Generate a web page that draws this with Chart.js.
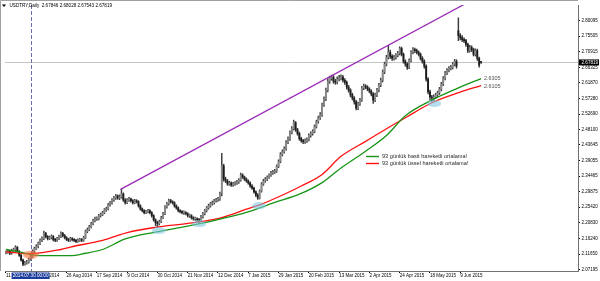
<!DOCTYPE html>
<html><head><meta charset="utf-8">
<script src="https://cdn.jsdelivr.net/npm/chart.js@4/dist/chart.umd.min.js"></script>
<style>html,body{margin:0;padding:0;background:#fff;overflow:hidden}</style>
</head><body>
<canvas id="c" width="600" height="281"></canvas>
<script>
// ---- data ----
const chartTitle = 'USDTRY,Daily  2.67846 2.68028 2.67543 2.67819';
const opens = [
2.120,2.122,2.125,2.119,2.128,2.130,2.136,2.125,2.113,2.099,
2.087,2.090,2.093,2.101,2.110,2.125,2.133,2.139,2.148,2.157,
2.162,2.177,2.168,2.162,2.165,2.168,2.159,2.157,2.162,2.168,
2.177,2.171,2.165,2.159,2.157,2.162,2.159,2.157,2.154,2.157,
2.159,2.157,2.165,2.183,2.188,2.197,2.206,2.215,2.220,2.220,
2.229,2.232,2.238,2.246,2.249,2.261,2.267,2.275,2.281,2.287,
2.281,2.284,2.293,2.275,2.267,2.275,2.278,2.273,2.267,2.273,
2.270,2.258,2.249,2.244,2.238,2.241,2.244,2.238,2.229,2.217,
2.209,2.206,2.212,2.223,2.235,2.255,2.264,2.273,2.270,2.267,
2.258,2.252,2.244,2.241,2.238,2.238,2.235,2.229,2.229,2.223,
2.220,2.220,2.217,2.215,2.226,2.235,2.244,2.252,2.258,2.264,
2.267,2.273,2.275,2.278,2.295,2.375,2.336,2.331,2.322,2.325,
2.319,2.322,2.325,2.328,2.333,2.348,2.342,2.336,2.331,2.325,
2.316,2.310,2.299,2.290,2.281,2.301,2.322,2.331,2.336,2.342,
2.348,2.354,2.357,2.360,2.374,2.388,2.409,2.417,2.426,2.444,
2.455,2.473,2.484,2.502,2.481,2.470,2.455,2.449,2.446,2.449,
2.452,2.464,2.470,2.476,2.490,2.504,2.516,2.525,2.554,2.571,
2.597,2.623,2.632,2.635,2.623,2.620,2.629,2.632,2.635,2.626,
2.620,2.606,2.597,2.583,2.574,2.563,2.545,2.557,2.568,2.603,
2.609,2.606,2.600,2.594,2.586,2.568,2.583,2.597,2.612,2.626,
2.650,2.673,2.693,2.708,2.696,2.690,2.693,2.699,2.705,2.719,
2.702,2.681,2.673,2.664,2.684,2.708,2.716,2.713,2.708,2.702,
2.690,2.681,2.667,2.629,2.592,2.577,2.574,2.577,2.583,2.589,
2.600,2.615,2.632,2.647,2.655,2.661,2.664,2.673,2.681,2.771,
2.757,2.751,2.745,2.742,2.731,2.713,2.722,2.716,2.702,2.713,
2.690,2.67846];
const highs = [
2.126,2.129,2.128,2.131,2.134,2.141,2.139,2.127,2.116,2.102,
2.095,2.098,2.105,2.114,2.129,2.137,2.144,2.152,2.161,2.167,
2.184,2.180,2.171,2.169,2.173,2.171,2.163,2.166,2.172,2.182,
2.180,2.174,2.168,2.163,2.166,2.165,2.162,2.160,2.161,2.163,
2.162,2.169,2.187,2.193,2.201,2.210,2.219,2.225,2.226,2.233,
2.237,2.242,2.250,2.254,2.265,2.271,2.279,2.286,2.292,2.290,
2.290,2.307,2.296,2.279,2.279,2.283,2.281,2.276,2.277,2.276,
2.273,2.261,2.252,2.247,2.245,2.248,2.247,2.241,2.232,2.220,
2.213,2.216,2.227,2.239,2.259,2.268,2.278,2.277,2.273,2.270,
2.261,2.255,2.247,2.244,2.243,2.241,2.238,2.234,2.232,2.226,
2.225,2.223,2.221,2.230,2.239,2.248,2.256,2.263,2.268,2.272,
2.277,2.280,2.283,2.298,2.412,2.380,2.342,2.335,2.330,2.328,
2.327,2.329,2.333,2.338,2.354,2.352,2.345,2.340,2.334,2.328,
2.320,2.313,2.302,2.294,2.305,2.326,2.336,2.341,2.346,2.352,
2.359,2.362,2.365,2.378,2.393,2.414,2.422,2.431,2.449,2.460,
2.478,2.490,2.509,2.505,2.485,2.474,2.459,2.453,2.454,2.457,
2.469,2.475,2.481,2.495,2.509,2.521,2.531,2.559,2.577,2.603,
2.630,2.638,2.641,2.640,2.629,2.636,2.640,2.642,2.640,2.631,
2.624,2.611,2.601,2.588,2.578,2.567,2.562,2.573,2.608,2.615,
2.613,2.610,2.604,2.598,2.590,2.588,2.602,2.617,2.632,2.656,
2.679,2.699,2.728,2.714,2.701,2.699,2.704,2.711,2.724,2.723,
2.706,2.686,2.678,2.689,2.713,2.722,2.720,2.717,2.712,2.706,
2.695,2.686,2.671,2.634,2.597,2.582,2.583,2.588,2.594,2.605,
2.620,2.637,2.652,2.660,2.666,2.670,2.678,2.687,2.686,2.809,
2.763,2.757,2.750,2.746,2.735,2.728,2.727,2.720,2.718,2.717,
2.694,2.68028];
const lows = [
2.117,2.119,2.115,2.116,2.125,2.127,2.122,2.110,2.096,2.083,
2.084,2.087,2.090,2.098,2.107,2.121,2.130,2.135,2.144,2.153,
2.159,2.164,2.158,2.159,2.161,2.155,2.153,2.154,2.159,2.165,
2.167,2.161,2.156,2.153,2.154,2.155,2.153,2.150,2.151,2.154,
2.153,2.154,2.162,2.179,2.185,2.193,2.202,2.211,2.215,2.217,
2.225,2.229,2.235,2.242,2.246,2.257,2.263,2.271,2.277,2.277,
2.276,2.280,2.271,2.263,2.264,2.271,2.269,2.263,2.264,2.266,
2.254,2.245,2.240,2.234,2.235,2.237,2.234,2.225,2.213,2.200,
2.195,2.202,2.209,2.220,2.232,2.251,2.260,2.266,2.263,2.254,
2.248,2.240,2.237,2.234,2.233,2.231,2.225,2.224,2.219,2.216,
2.215,2.212,2.206,2.212,2.222,2.231,2.240,2.248,2.254,2.260,
2.263,2.269,2.271,2.274,2.287,2.330,2.326,2.318,2.318,2.315,
2.315,2.318,2.321,2.324,2.330,2.338,2.332,2.327,2.321,2.312,
2.306,2.295,2.285,2.277,2.278,2.298,2.318,2.327,2.332,2.338,
2.344,2.350,2.353,2.356,2.370,2.384,2.404,2.412,2.421,2.440,
2.450,2.469,2.480,2.476,2.465,2.450,2.444,2.440,2.441,2.444,
2.448,2.459,2.465,2.472,2.486,2.500,2.511,2.520,2.549,2.566,
2.592,2.617,2.626,2.617,2.614,2.615,2.624,2.627,2.620,2.614,
2.600,2.591,2.577,2.568,2.556,2.539,2.540,2.552,2.564,2.598,
2.601,2.595,2.589,2.580,2.558,2.563,2.578,2.592,2.607,2.621,
2.645,2.668,2.688,2.690,2.684,2.685,2.688,2.694,2.700,2.697,
2.676,2.667,2.658,2.660,2.680,2.703,2.707,2.703,2.697,2.685,
2.676,2.661,2.623,2.586,2.568,2.563,2.567,2.572,2.578,2.584,
2.595,2.610,2.627,2.642,2.650,2.656,2.659,2.668,2.661,2.742,
2.744,2.739,2.736,2.725,2.707,2.708,2.710,2.697,2.697,2.684,
2.664,2.67543];
const closes = [
2.122,2.125,2.119,2.128,2.130,2.136,2.125,2.113,2.099,2.087,
2.090,2.093,2.101,2.110,2.125,2.133,2.139,2.148,2.157,2.162,
2.177,2.168,2.162,2.165,2.168,2.159,2.157,2.162,2.168,2.177,
2.171,2.165,2.159,2.157,2.162,2.159,2.157,2.154,2.157,2.159,
2.157,2.165,2.183,2.188,2.197,2.206,2.215,2.220,2.220,2.229,
2.232,2.238,2.246,2.249,2.261,2.267,2.275,2.281,2.287,2.281,
2.284,2.293,2.275,2.267,2.275,2.278,2.273,2.267,2.273,2.270,
2.258,2.249,2.244,2.238,2.241,2.244,2.238,2.229,2.217,2.209,
2.206,2.212,2.223,2.235,2.255,2.264,2.273,2.270,2.267,2.258,
2.252,2.244,2.241,2.238,2.238,2.235,2.229,2.229,2.223,2.220,
2.220,2.217,2.215,2.226,2.235,2.244,2.252,2.258,2.264,2.267,
2.273,2.275,2.278,2.293,2.375,2.336,2.331,2.322,2.325,2.319,
2.322,2.325,2.328,2.333,2.348,2.342,2.336,2.331,2.325,2.316,
2.310,2.299,2.290,2.281,2.301,2.322,2.331,2.336,2.342,2.348,
2.354,2.357,2.360,2.374,2.388,2.409,2.417,2.426,2.444,2.455,
2.473,2.484,2.502,2.481,2.470,2.455,2.449,2.446,2.449,2.452,
2.464,2.470,2.476,2.490,2.504,2.516,2.525,2.554,2.571,2.597,
2.623,2.632,2.635,2.623,2.620,2.629,2.632,2.635,2.626,2.620,
2.606,2.597,2.583,2.574,2.563,2.545,2.557,2.568,2.603,2.609,
2.606,2.600,2.594,2.586,2.568,2.583,2.597,2.612,2.626,2.650,
2.673,2.693,2.708,2.696,2.690,2.693,2.699,2.705,2.719,2.702,
2.681,2.673,2.664,2.684,2.708,2.716,2.713,2.708,2.702,2.690,
2.681,2.667,2.629,2.592,2.577,2.574,2.577,2.583,2.589,2.600,
2.615,2.632,2.647,2.655,2.661,2.664,2.673,2.681,2.667,2.757,
2.751,2.745,2.742,2.731,2.713,2.722,2.716,2.702,2.713,2.690,
2.670,2.67819];

const xTickIndex  = [0,16,32,48,64,80,96,112,128,144,160,176,192,208,224,240];
const xTickLabels = ['11 Jul 2014','4 Aug 2014','26 Aug 2014','17 Sep 2014','9 Oct 2014','30 Oct 2014',
  '21 Nov 2014','12 Dec 2014','7 Jan 2015','29 Jan 2015','20 Feb 2015','13 Mar 2015','2 Apr 2015',
  '24 Apr 2015','18 May 2015','9 Jun 2015'];
const yTickValues = [2.80095,2.75505,2.70915,2.66325,2.61870,2.57280,2.52690,2.48100,2.43645,
  2.39055,2.34465,2.29875,2.25420,2.20830,2.16240,2.11650,2.07195];

const smaIndex  = [0,7,16,25,34,42,51,63,79,102,113,127,142,155,167,177,190,201,211,225,240,251];
const smaValues = [2.130,2.123,2.113,2.112,2.112,2.119,2.130,2.161,2.181,2.205,2.219,2.239,2.268,2.292,2.326,2.369,2.418,2.464,2.522,2.568,2.606,2.6305];
const emaIndex  = [0,13,29,34,51,65,79,97,113,127,135,147,156,167,177,190,201,211,225,240,251];
const emaValues = [2.123,2.118,2.130,2.137,2.157,2.181,2.195,2.207,2.222,2.248,2.263,2.292,2.316,2.350,2.403,2.447,2.484,2.516,2.560,2.591,2.6105];

const trendIndex  = [60.5, 242];
const trendValues = [2.3064, 2.848];

const touchIndex  = [13, 80.7, 102.1, 133.6, 226.3];
const touchValues = [2.115, 2.1855, 2.205, 2.258, 2.5576];

const currentPrice = 2.67819;
const crosshairIndex = 13;
const crosshairLabel = '2014.07.30 00:00';
const legendLabels = ['93 günlük basit hareketli ortalama!', '93 günlük üssel hareketli ortalama!'];
const maEndLabels = ['2.6305', '2.6105'];

// ---- styling ----
const FONT = '"Liberation Sans", Arial, sans-serif';
const GREEN = '#159415', RED = '#ff1010', PURPLE = '#9a2cb6';

function ellipseImg(w, h, color) {
  const c = document.createElement('canvas'); c.width = w; c.height = h;
  const g = c.getContext('2d'); g.fillStyle = color;
  g.beginPath(); g.ellipse(w/2, h/2, w/2, h/2, 0, 0, Math.PI*2); g.fill();
  return c;
}
const orangeBlob = ellipseImg(16, 8, 'rgba(245,110,60,0.62)');
const blueBlob = ellipseImg(14, 7, 'rgba(130,200,225,0.6)');

const wickData = closes.map((c, i) => ({x: i, y: [lows[i], highs[i]]}));
const bodyData = closes.map((c, i) => ({x: i, y: [opens[i], c]}));

const overlay = {
  id: 'overlay',
  beforeDatasetsDraw(chart) {
    const {ctx, chartArea: a, scales: {x, y}} = chart;
    ctx.save();
    const py = Math.round(y.getPixelForValue(currentPrice)) + 0.5;
    ctx.strokeStyle = '#c6c6c6'; ctx.lineWidth = 1;
    ctx.beginPath(); ctx.moveTo(a.left, py); ctx.lineTo(a.right, py); ctx.stroke();
    const cx = Math.round(x.getPixelForValue(crosshairIndex)) + 0.5;
    ctx.strokeStyle = '#6e6eb8'; ctx.setLineDash([4, 2]);
    ctx.beginPath(); ctx.moveTo(cx, a.top); ctx.lineTo(cx, a.bottom); ctx.stroke();
    ctx.restore();
  },
  afterDraw(chart) {
    const {ctx, chartArea: a, scales: {x, y}} = chart;
    ctx.save();
    ctx.strokeStyle = '#a0a0a0'; ctx.lineWidth = 1;
    ctx.beginPath(); ctx.moveTo(0.5, a.bottom); ctx.lineTo(0.5, 0.5); ctx.lineTo(a.right, 0.5); ctx.stroke();
    ctx.fillStyle = '#000';
    ctx.beginPath(); ctx.moveTo(2, 4.5); ctx.lineTo(6, 4.5); ctx.lineTo(4, 7); ctx.closePath(); ctx.fill();
    ctx.font = '4.6px ' + FONT; ctx.textBaseline = 'middle'; ctx.textAlign = 'left';
    ctx.fillText(chartTitle, 9.5, 5.8);
    ctx.lineWidth = 1.4;
    ctx.strokeStyle = GREEN; ctx.beginPath(); ctx.moveTo(366, 156.5); ctx.lineTo(379, 156.5); ctx.stroke();
    ctx.strokeStyle = RED; ctx.beginPath(); ctx.moveTo(366, 163.5); ctx.lineTo(379, 163.5); ctx.stroke();
    ctx.font = '5.6px ' + FONT; ctx.fillStyle = '#2a2a2a';
    ctx.fillText(legendLabels[0], 382, 156.6);
    ctx.fillText(legendLabels[1], 382, 163.6);
    ctx.fillStyle = '#505050'; ctx.font = '5.4px ' + FONT;
    const sx = x.getPixelForValue(smaIndex[smaIndex.length-1]);
    ctx.fillText(maEndLabels[0], sx + 3, y.getPixelForValue(smaValues[smaValues.length-1]));
    const ex = x.getPixelForValue(emaIndex[emaIndex.length-1]);
    ctx.fillText(maEndLabels[1], ex + 3, y.getPixelForValue(emaValues[emaValues.length-1]) + 0.5);
    const py = y.getPixelForValue(currentPrice);
    ctx.fillStyle = '#000'; ctx.fillRect(a.right + 1, py - 3, 20, 6);
    ctx.fillStyle = '#fff'; ctx.font = '4.6px ' + FONT;
    ctx.fillText(currentPrice.toFixed(5), a.right + 3.5, py + 0.2);
    const cx = x.getPixelForValue(crosshairIndex);
    ctx.fillStyle = '#1b3c9e'; ctx.fillRect(cx - 19, a.bottom + 1.5, 38, 6.5);
    ctx.fillStyle = '#fff'; ctx.textAlign = 'center';
    ctx.fillText(crosshairLabel, cx, a.bottom + 4.9);
    ctx.restore();
  }
};

new Chart(document.getElementById('c'), {
  type: 'bar',
  data: {
    datasets: [
      { type: 'scatter', data: touchIndex.map((v, i) => ({x: v, y: touchValues[i]})),
        pointStyle: touchIndex.map((v, i) => i === 0 ? orangeBlob : blueBlob), order: 0 },
      { type: 'line', data: trendIndex.map((v, i) => ({x: v, y: trendValues[i]})),
        borderColor: PURPLE, borderWidth: 1.3, pointRadius: 0, order: 1 },
      { type: 'line', data: smaIndex.map((v, i) => ({x: v, y: smaValues[i]})),
        borderColor: GREEN, borderWidth: 1.3, pointRadius: 0, cubicInterpolationMode: 'monotone', order: 2 },
      { type: 'line', data: emaIndex.map((v, i) => ({x: v, y: emaValues[i]})),
        borderColor: RED, borderWidth: 1.3, pointRadius: 0, cubicInterpolationMode: 'monotone', order: 3 },
      { type: 'bar', data: bodyData, grouped: false, barThickness: 1.2, minBarLength: 1,
        backgroundColor: ctx => (closes[ctx.dataIndex] >= opens[ctx.dataIndex] ? '#8a8a8a' : '#1c1c1c'), order: 4 },
      { type: 'bar', data: wickData, grouped: false, barThickness: 0.8, backgroundColor: '#3c3c3c', order: 5 }
    ]
  },
  options: {
    responsive: false, animation: false, events: [],
    layout: { padding: { left: 1, top: 2, right: 0, bottom: 0 } },
    plugins: { legend: { display: false }, tooltip: { enabled: false } },
    scales: {
      x: {
        type: 'linear', min: -0.525, max: 302.2, offset: false,
        afterBuildTicks: s => { s.ticks = xTickIndex.map(v => ({value: v})); },
        afterFit: s => { s.height = 10; },
        ticks: { autoSkip: false, maxRotation: 0, minRotation: 0, align: 'start', padding: 0.5,
          color: '#000', font: { size: 4.5, family: FONT },
          callback: (v, i) => xTickLabels[i] },
        grid: { drawOnChartArea: false, drawTicks: true, tickLength: 2, color: '#000', offset: false },
        border: { display: true, color: '#707070' }
      },
      y: {
        type: 'linear', position: 'right', min: 2.06703, max: 2.84643,
        afterBuildTicks: s => { s.ticks = yTickValues.map(v => ({value: v})); },
        afterFit: s => { s.width = 22; },
        ticks: { autoSkip: false, padding: 1.5, color: '#000', font: { size: 4.5, family: FONT },
          callback: v => Number(v).toFixed(5) },
        grid: { drawOnChartArea: false, drawTicks: true, tickLength: 2, color: '#000' },
        border: { display: true, color: '#707070' }
      }
    }
  },
  plugins: [overlay]
});
</script>
</body></html>
